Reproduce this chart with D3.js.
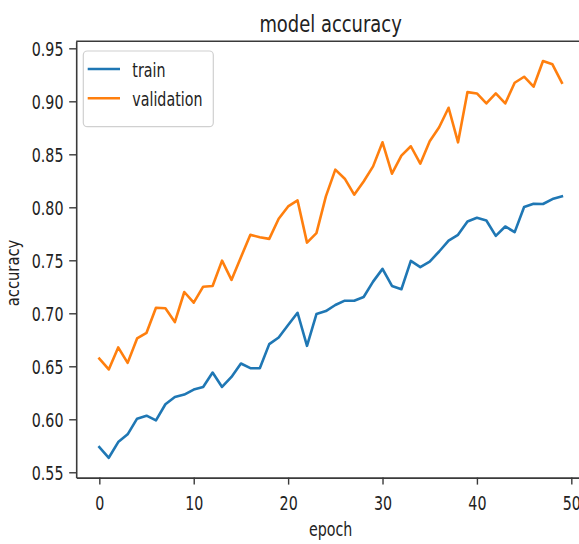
<!DOCTYPE html>
<html>
<head>
<meta charset="utf-8">
<script src="https://cdn.jsdelivr.net/npm/d3@7"></script>
<style>
  html, body { margin: 0; padding: 0; background: #fff; }
  svg { display: block; }
  text { font-family: "DejaVu Sans", sans-serif; fill: #222; }
</style>
</head>
<body>
<svg id="chart" width="579" height="544"></svg>
<script>
// Training history: accuracy per epoch
const epochs = d3.range(0, 50);
const trainAcc = [
  0.5737, 0.5637, 0.5785, 0.5858, 0.6006, 0.6034, 0.5990, 0.6142, 0.6210, 0.6233,
  0.6280, 0.6305, 0.6441, 0.6305, 0.6400, 0.6526, 0.6482, 0.6482, 0.6709, 0.6772,
  0.6889, 0.7005, 0.6693, 0.6993, 0.7021, 0.7078, 0.7119, 0.7119, 0.7154, 0.7299,
  0.7419, 0.7258, 0.7227, 0.7494, 0.7435, 0.7488, 0.7583, 0.7686, 0.7740, 0.7866,
  0.7901, 0.7876, 0.7731, 0.7819, 0.7766, 0.8003, 0.8034, 0.8031, 0.8078, 0.8103
];
const valAcc = [
  0.6573, 0.6470, 0.6678, 0.6532, 0.6763, 0.6816, 0.7053, 0.7047, 0.6917, 0.7201,
  0.7100, 0.7251, 0.7258, 0.7497, 0.7315, 0.7529, 0.7740, 0.7718, 0.7702, 0.7892,
  0.8008, 0.8065, 0.7667, 0.7756, 0.8103, 0.8355, 0.8270, 0.8119, 0.8244, 0.8386,
  0.8613, 0.8317, 0.8488, 0.8576, 0.8412, 0.8623, 0.8755, 0.8939, 0.8613, 0.9087,
  0.9074, 0.8980, 0.9074, 0.8980, 0.9175, 0.9232, 0.9138, 0.9380, 0.9349, 0.9175
];
const seriesNames = ["train", "validation"];
const seriesColors = ["#1f77b4", "#ff7f0e"];
const xTicks = [0, 10, 20, 30, 40, 50];
const yTicks = [0.55, 0.60, 0.65, 0.70, 0.75, 0.80, 0.85, 0.90, 0.95];

// Horizontal squeeze applied to the text glyphs
const SX = 0.75;

const svg = d3.select("#chart");
const plot = { left: 76.2, right: 585, top: 41.2, bottom: 477.6 };

// Axis limits padded by 5% of the data span, like matplotlib's autoscale
const xExt = d3.extent(epochs);
const xPad = (xExt[1] - xExt[0]) * 0.05;
const allY = trainAcc.concat(valAcc);
const yExt = d3.extent(allY);
const yPad = (yExt[1] - yExt[0]) * 0.05;

const x = d3.scaleLinear().domain([xExt[0] - xPad, xExt[1] + xPad]).range([plot.left, plot.right]);
const y = d3.scaleLinear().domain([yExt[0] - yPad, yExt[1] + yPad]).range([plot.bottom, plot.top]);

// Lines
const line = d3.line().x((d, i) => x(epochs[i])).y(d => y(d));
[trainAcc, valAcc].forEach((vals, k) => {
  svg.append("path")
    .datum(vals)
    .attr("d", line)
    .attr("fill", "none")
    .attr("stroke", seriesColors[k])
    .attr("stroke-width", 2.6)
    .attr("stroke-linejoin", "round")
    .attr("stroke-linecap", "square");
});

// Frame (top and right spines)
const spine = "#3a3a3a";
svg.append("line")
  .attr("x1", plot.left).attr("x2", plot.right)
  .attr("y1", plot.top).attr("y2", plot.top)
  .attr("stroke", spine).attr("stroke-width", 1.6);
svg.append("line")
  .attr("x1", plot.right).attr("x2", plot.right)
  .attr("y1", plot.top).attr("y2", plot.bottom)
  .attr("stroke", spine).attr("stroke-width", 1.6);

// X axis
const gx = svg.append("g")
  .attr("transform", `translate(0,${plot.bottom})`)
  .call(d3.axisBottom(x).tickValues(xTicks).tickFormat(d3.format("d")).tickSize(7).tickSizeOuter(0));
gx.select(".domain").attr("stroke", spine).attr("stroke-width", 1.6);
gx.selectAll(".tick line").attr("stroke", spine).attr("stroke-width", 1.4);
gx.selectAll(".tick text")
  .attr("y", null).attr("dy", null)
  .attr("font-size", 19)
  .attr("font-family", "DejaVu Sans")
  .attr("fill", "#222")
  .attr("text-anchor", "middle")
  .attr("transform", `translate(0,32.4) scale(${SX},1)`);

// Y axis
const gy = svg.append("g")
  .attr("transform", `translate(${plot.left},0)`)
  .call(d3.axisLeft(y).tickValues(yTicks).tickFormat(d3.format(".2f")).tickSize(7).tickSizeOuter(0));
gy.select(".domain").attr("stroke", spine).attr("stroke-width", 1.6);
gy.selectAll(".tick line").attr("stroke", spine).attr("stroke-width", 1.4);
gy.selectAll(".tick text")
  .attr("x", null).attr("dy", "0.36em")
  .attr("font-size", 19)
  .attr("font-family", "DejaVu Sans")
  .attr("fill", "#222")
  .attr("text-anchor", "end")
  .attr("transform", `translate(-12.7,0) scale(${SX},1)`);

// Title and axis labels
const cx = (plot.left + plot.right) / 2;
svg.append("text")
  .attr("transform", `translate(${cx},31.7) scale(0.78,1)`)
  .attr("text-anchor", "middle")
  .attr("font-size", 23)
  .text("model accuracy");
svg.append("text")
  .attr("transform", `translate(${cx},535.5) scale(${SX},1)`)
  .attr("text-anchor", "middle")
  .attr("font-size", 19)
  .text("epoch");
svg.append("text")
  .attr("transform", "translate(18.5,273) rotate(-90) scale(0.82,1)")
  .attr("text-anchor", "middle")
  .attr("font-size", 18)
  .text("accuracy");

// Legend
const lg = svg.append("g");
lg.append("rect")
  .attr("x", 83.3).attr("y", 51)
  .attr("width", 130).attr("height", 75.7)
  .attr("rx", 4).attr("ry", 4)
  .attr("fill", "#fff").attr("fill-opacity", 0.8)
  .attr("stroke", "#d0d0d0").attr("stroke-width", 1.2);
seriesNames.forEach((name, k) => {
  const ly = 69 + k * 29.3;
  lg.append("line")
    .attr("x1", 87.7).attr("x2", 120)
    .attr("y1", ly).attr("y2", ly)
    .attr("stroke", seriesColors[k]).attr("stroke-width", 2.6);
  lg.append("text")
    .attr("transform", `translate(132.3,${ly + 7.5}) scale(${SX},1)`)
    .attr("font-size", 19)
    .text(name);
});
</script>
</body>
</html>
